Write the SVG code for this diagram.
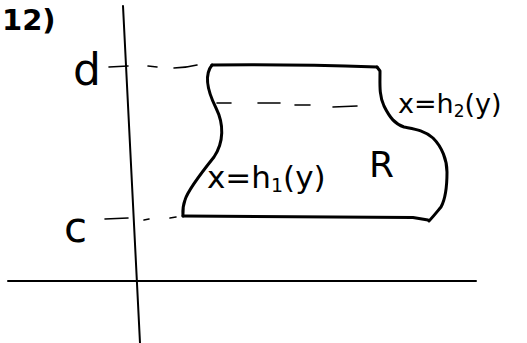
<svg xmlns="http://www.w3.org/2000/svg" width="527" height="343" viewBox="0 0 527 343">
<style>
.ink{fill:none;stroke:#000;stroke-linecap:round;stroke-linejoin:round}
.axis{stroke-width:2}
.edge{stroke-width:3}
.dash{stroke-width:1.6}
.lbl{font-family:"DejaVu Sans","Liberation Sans",sans-serif;fill:#000}
</style>
<rect width="527" height="343" fill="#fff"/>
<g id="axes">
<path class="ink axis" d="M123 6 L140 343"/>
<path class="ink axis" d="M8 281 L476 281"/>
</g>
<g id="region">
<path class="ink edge" d="M212 65 Q290 64 377 67"/>
<path class="ink edge" d="M212 65 C204 75 208 92 216 108 C224 124 224 142 214 157 C202 172 188 190 185 200 C182 208 183 214 183 216"/>
<path class="ink edge" d="M183 216 L413 217.5 L428 220"/>
<path class="ink edge" d="M377 67 L380 71 C380 85 379 95 384 106 C390 118 395 124 404 127 C414 129 424 130 433 138 C442 147 447 160 447 172 C447 185 446 198 441 207 C436 213 432 218 429 221"/>
</g>
<g id="guides">
<path class="ink dash" d="M109 67 L128 66"/>
<path class="ink dash" d="M148 66 L157 67 M174 68 Q185 68 197 65"/>
<path class="ink dash" d="M217 103 L231 103 M258 103 L280 103 M295 105 L310 105 M333 107 L357 106"/>
<path class="ink dash" d="M105 219 L128 218"/>
<path class="ink dash" d="M144 220 L149 219 M170 218 L176 217"/>
</g>
<g id="labels">
<text class="lbl" x="2" y="30" font-size="29" font-weight="bold">12)</text>
<text class="lbl" x="73" y="85" font-size="44">d</text>
<text class="lbl" x="64" y="242" font-size="42">c</text>
<text class="lbl" x="369" y="177" font-size="36">R</text>
<text class="lbl" x="207" y="188" font-size="31">x=h<tspan font-size="19" dy="4">1</tspan><tspan dy="-4">(y)</tspan></text>
<text class="lbl" x="398" y="113" font-size="27">x=h<tspan font-size="17" dy="4">2</tspan><tspan dy="-4">(y)</tspan></text>
</g>
</svg>
